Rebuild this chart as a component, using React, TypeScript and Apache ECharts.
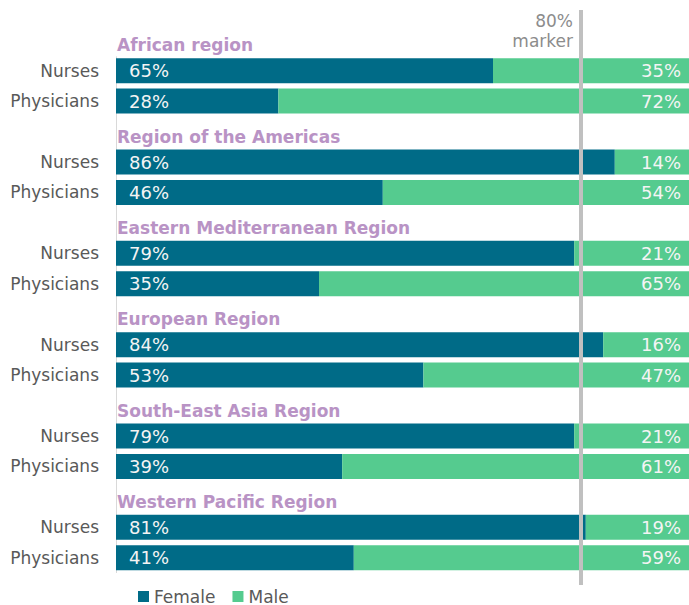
import React, { useEffect, useRef } from "react";
import * as echarts from "echarts";

const regions = [
  "African region",
  "Region of the Americas",
  "Eastern Mediterranean Region",
  "European Region",
  "South-East Asia Region",
  "Western Pacific Region",
];
const roles = ["Nurses", "Physicians"];
const nursesFemale = [65, 86, 79, 84, 79, 81];
const nursesMale = [35, 14, 21, 16, 21, 19];
const physiciansFemale = [28, 46, 35, 53, 39, 41];
const physiciansMale = [72, 54, 65, 47, 61, 59];
const markerValue = 80;

const FONT = "DejaVu Sans";

export default function App() {
  const ref = useRef<HTMLDivElement>(null);
  useEffect(() => {
    if (!ref.current) return;
    const chart = echarts.init(ref.current, undefined, { renderer: "svg" });

    const keys: string[] = [];
    const female: any[] = [];
    const male: any[] = [];
    regions.forEach((r, i) => {
      keys.push("T|" + i);
      female.push("-");
      male.push("-");
      keys.push(roles[0] + "|" + i);
      female.push(nursesFemale[i]);
      male.push(nursesMale[i]);
      keys.push(roles[1] + "|" + i);
      female.push(physiciansFemale[i]);
      male.push(physiciansMale[i]);
    });

    chart.setOption({
      animation: false,
      grid: { left: 116, width: 580, top: 25, height: 548, containLabel: false },
      xAxis: { type: "value", min: 0, max: 100, show: false },
      yAxis: {
        type: "category",
        inverse: true,
        data: keys,
        axisLine: { show: false },
        axisTick: { show: false },
        splitLine: { show: false },
        axisLabel: {
          margin: 17,
          color: "#595959",
          fontSize: 17,
          fontFamily: FONT,
          formatter: (v: string) => (v.startsWith("T|") ? "" : v.split("|")[0]),
        },
      },
      legend: {
        left: 138,
        top: 588,
        padding: 0,
        itemWidth: 11,
        itemHeight: 11,
        itemGap: 17,
        icon: "rect",
        textStyle: { color: "#595959", fontSize: 17, fontFamily: FONT },
        data: ["Female", "Male"],
      },
      series: [
        {
          name: "Female",
          type: "bar",
          stack: "s",
          barWidth: 25,
          data: female,
          itemStyle: { color: "#006b87" },
          label: {
            show: true,
            position: "insideLeft",
            distance: 13,
            formatter: "{c}%",
            color: "#f4f4f4",
            fontSize: 18,
            fontFamily: FONT,
          },
        },
        {
          name: "Male",
          type: "bar",
          stack: "s",
          barWidth: 25,
          data: male,
          itemStyle: { color: "#55cb8f" },
          label: {
            show: true,
            position: "insideRight",
            distance: 15,
            formatter: "{c}%",
            color: "#f4f4f4",
            fontSize: 18,
            fontFamily: FONT,
          },
        },
      ],
    });

    const x0 = chart.convertToPixel({ xAxisIndex: 0 }, 0) as number;
    const x80 = chart.convertToPixel({ xAxisIndex: 0 }, markerValue) as number;
    const yFirst = chart.convertToPixel({ yAxisIndex: 0 }, keys[1]) as number;
    const ySecond = chart.convertToPixel({ yAxisIndex: 0 }, keys[2]) as number;
    const slot = ySecond - yFirst;
    const yLast = chart.convertToPixel({ yAxisIndex: 0 }, keys[keys.length - 1]) as number;

    const graphics: any[] = [
      {
        type: "line",
        z: 1,
        shape: { x1: x0 + 0.5, y1: yFirst - slot / 2 + 1, x2: x0 + 0.5, y2: yLast + slot / 2 },
        style: { stroke: "#d9d9d9", lineWidth: 1 },
      },
      {
        type: "line",
        z: 100,
        shape: { x1: x80 + 1, y1: 10, x2: x80 + 1, y2: 585 },
        style: { stroke: "#c0c0c0", lineWidth: 4 },
      },
      {
        type: "text",
        z: 100,
        x: x80 - 7,
        y: 21,
        style: {
          text: "80%",
          fill: "#8c8c8c",
          font: `17px "${FONT}"`,
          align: "right",
          verticalAlign: "middle",
        },
      },
      {
        type: "text",
        z: 100,
        x: x80 - 7,
        y: 41,
        style: {
          text: "marker",
          fill: "#8c8c8c",
          font: `17px "${FONT}"`,
          align: "right",
          verticalAlign: "middle",
        },
      },
    ];
    regions.forEach((r, i) => {
      const y = chart.convertToPixel({ yAxisIndex: 0 }, "T|" + i) as number;
      graphics.push({
        type: "text",
        z: 100,
        x: x0 + 1,
        y: y + 5,
        style: {
          text: r,
          fill: "#b993c5",
          font: `bold 17px "${FONT}"`,
          align: "left",
          verticalAlign: "middle",
        },
      });
    });
    chart.setOption({ graphic: graphics });

    return () => chart.dispose();
  }, []);
  return (
    <div
      style={{ position: "absolute", left: 0, top: 0, width: 689, height: 605, overflow: "hidden", background: "#fff" }}
    >
      <div ref={ref} style={{ width: 710, height: 605 }} />
    </div>
  );
}
